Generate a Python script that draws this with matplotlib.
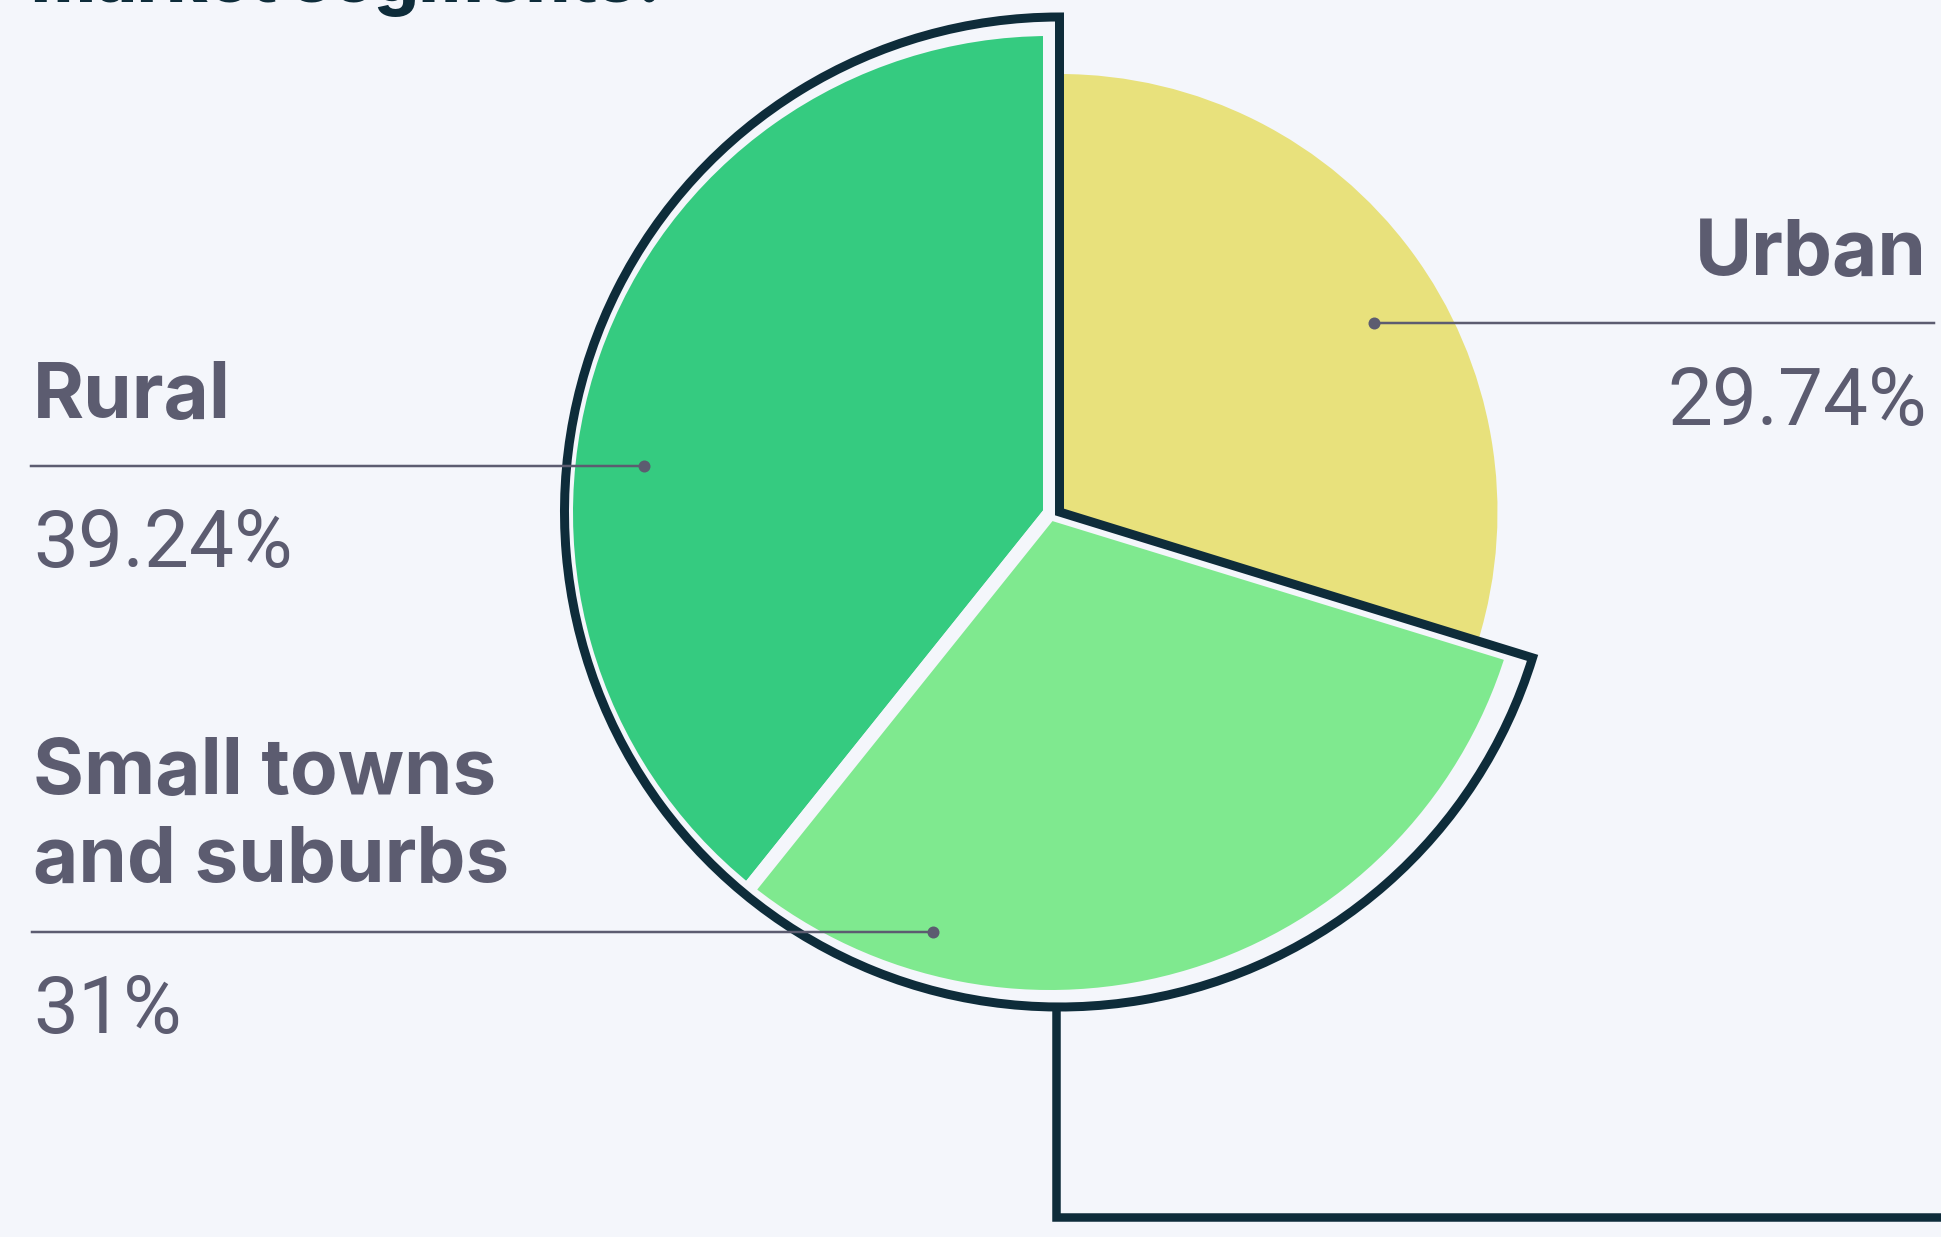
import matplotlib
matplotlib.use("Agg")
import matplotlib.pyplot as plt
from matplotlib.patches import Wedge

# ---- data ----
segments = ["Rural", "Small towns\nand suburbs", "Urban"]
shares = [39.24, 31.0, 29.74]
share_labels = ["39.24%", "31%", "29.74%"]
colors = ["#35cb80", "#7fe98f", "#e8e17c"]
title_text = "market segments."

# ---- style / layout ----
W, H = 1941, 1237
BG = "#f4f6fb"
DARK = "#0e2c3a"
LABEL = "#5c5c70"
FONT_B = ["Inter", "DejaVu Sans"]
FONT_R = ["Roboto", "DejaVu Sans"]
PX = 72 / 100  # points per pixel

def sy(y):  # screen y -> data y
    return H - y

fig = plt.figure(figsize=(W / 100, H / 100), dpi=100, facecolor=BG)
ax = fig.add_axes([0, 0, 1, 1])

pie_center = (1050, sy(513))
outline_center = (1059.5, sy(512))
r_big = 484
r_urban = 438
r_outline = 495

wedges, _ = ax.pie(shares, colors=colors, startangle=90, counterclock=True,
                   radius=r_big, center=pie_center, frame=True,
                   wedgeprops=dict(edgecolor=BG, linewidth=14 * PX))
ax.set_xlim(0, W)
ax.set_ylim(0, H)
ax.set_aspect("auto")
ax.axis("off")

# urban slice: smaller, anchored on outline center, no gap stroke
wedges[2].set_radius(r_urban)
wedges[2].set_center(outline_center)
wedges[2].set_linewidth(0)
wedges[2].set_zorder(0.5)

# outline around Rural + Small towns
theta_end = 90 + 360 * (shares[0] + shares[1]) / 100
outline = Wedge(outline_center, r_outline, 90, theta_end, fill=False,
                edgecolor=DARK, linewidth=9 * PX, joinstyle="miter", zorder=3)
ax.add_patch(outline)

# connector from the outline bottom
cx = 1056
ax.plot([cx, cx, W + 10], [outline_center[1] - r_outline, sy(1217), sy(1217)],
        color=DARK, lw=8.5 * PX, solid_joinstyle="miter", solid_capstyle="butt",
        zorder=3, clip_on=False)

# leader lines with dots: (dot x, dot y, line end x)
leaders = [(644, 466, 31), (933, 932, 32), (1374, 323, 1934)]
for dx, dy, ex in leaders:
    ax.plot([dx, ex], [sy(dy), sy(dy)], color=LABEL, lw=2.5 * PX, zorder=4)
    ax.plot([dx], [sy(dy)], "o", color=LABEL, ms=12 * PX, mew=0, zorder=5)

FS_B = 78 * PX
FS_R = 80 * PX
# labels: (x, baselines of name lines, baseline of pct, ha)
label_pos = [(33, [418], 567, "left"),
             (33, [794, 882], 1033, "left"),
             (1927, [275], 425, "right")]
for name, pct, (x, ys, yp, ha) in zip(segments, share_labels, label_pos):
    for line, yb in zip(name.split("\n"), ys):
        ax.text(x, sy(yb), line, ha=ha, va="baseline", fontsize=FS_B,
                fontweight="bold", color=LABEL, family=FONT_B, zorder=6)
    ax.text(x, sy(yp), pct, ha=ha, va="baseline", fontsize=FS_R,
            fontweight="normal", color=LABEL, family=FONT_R, zorder=6)

# clipped title at the top edge
ax.text(31, sy(2), title_text, ha="left", va="baseline", fontsize=70 * PX,
        fontweight="heavy", color=DARK, family=FONT_B, zorder=6)

fig.savefig("out.png", dpi=100, facecolor=BG)
